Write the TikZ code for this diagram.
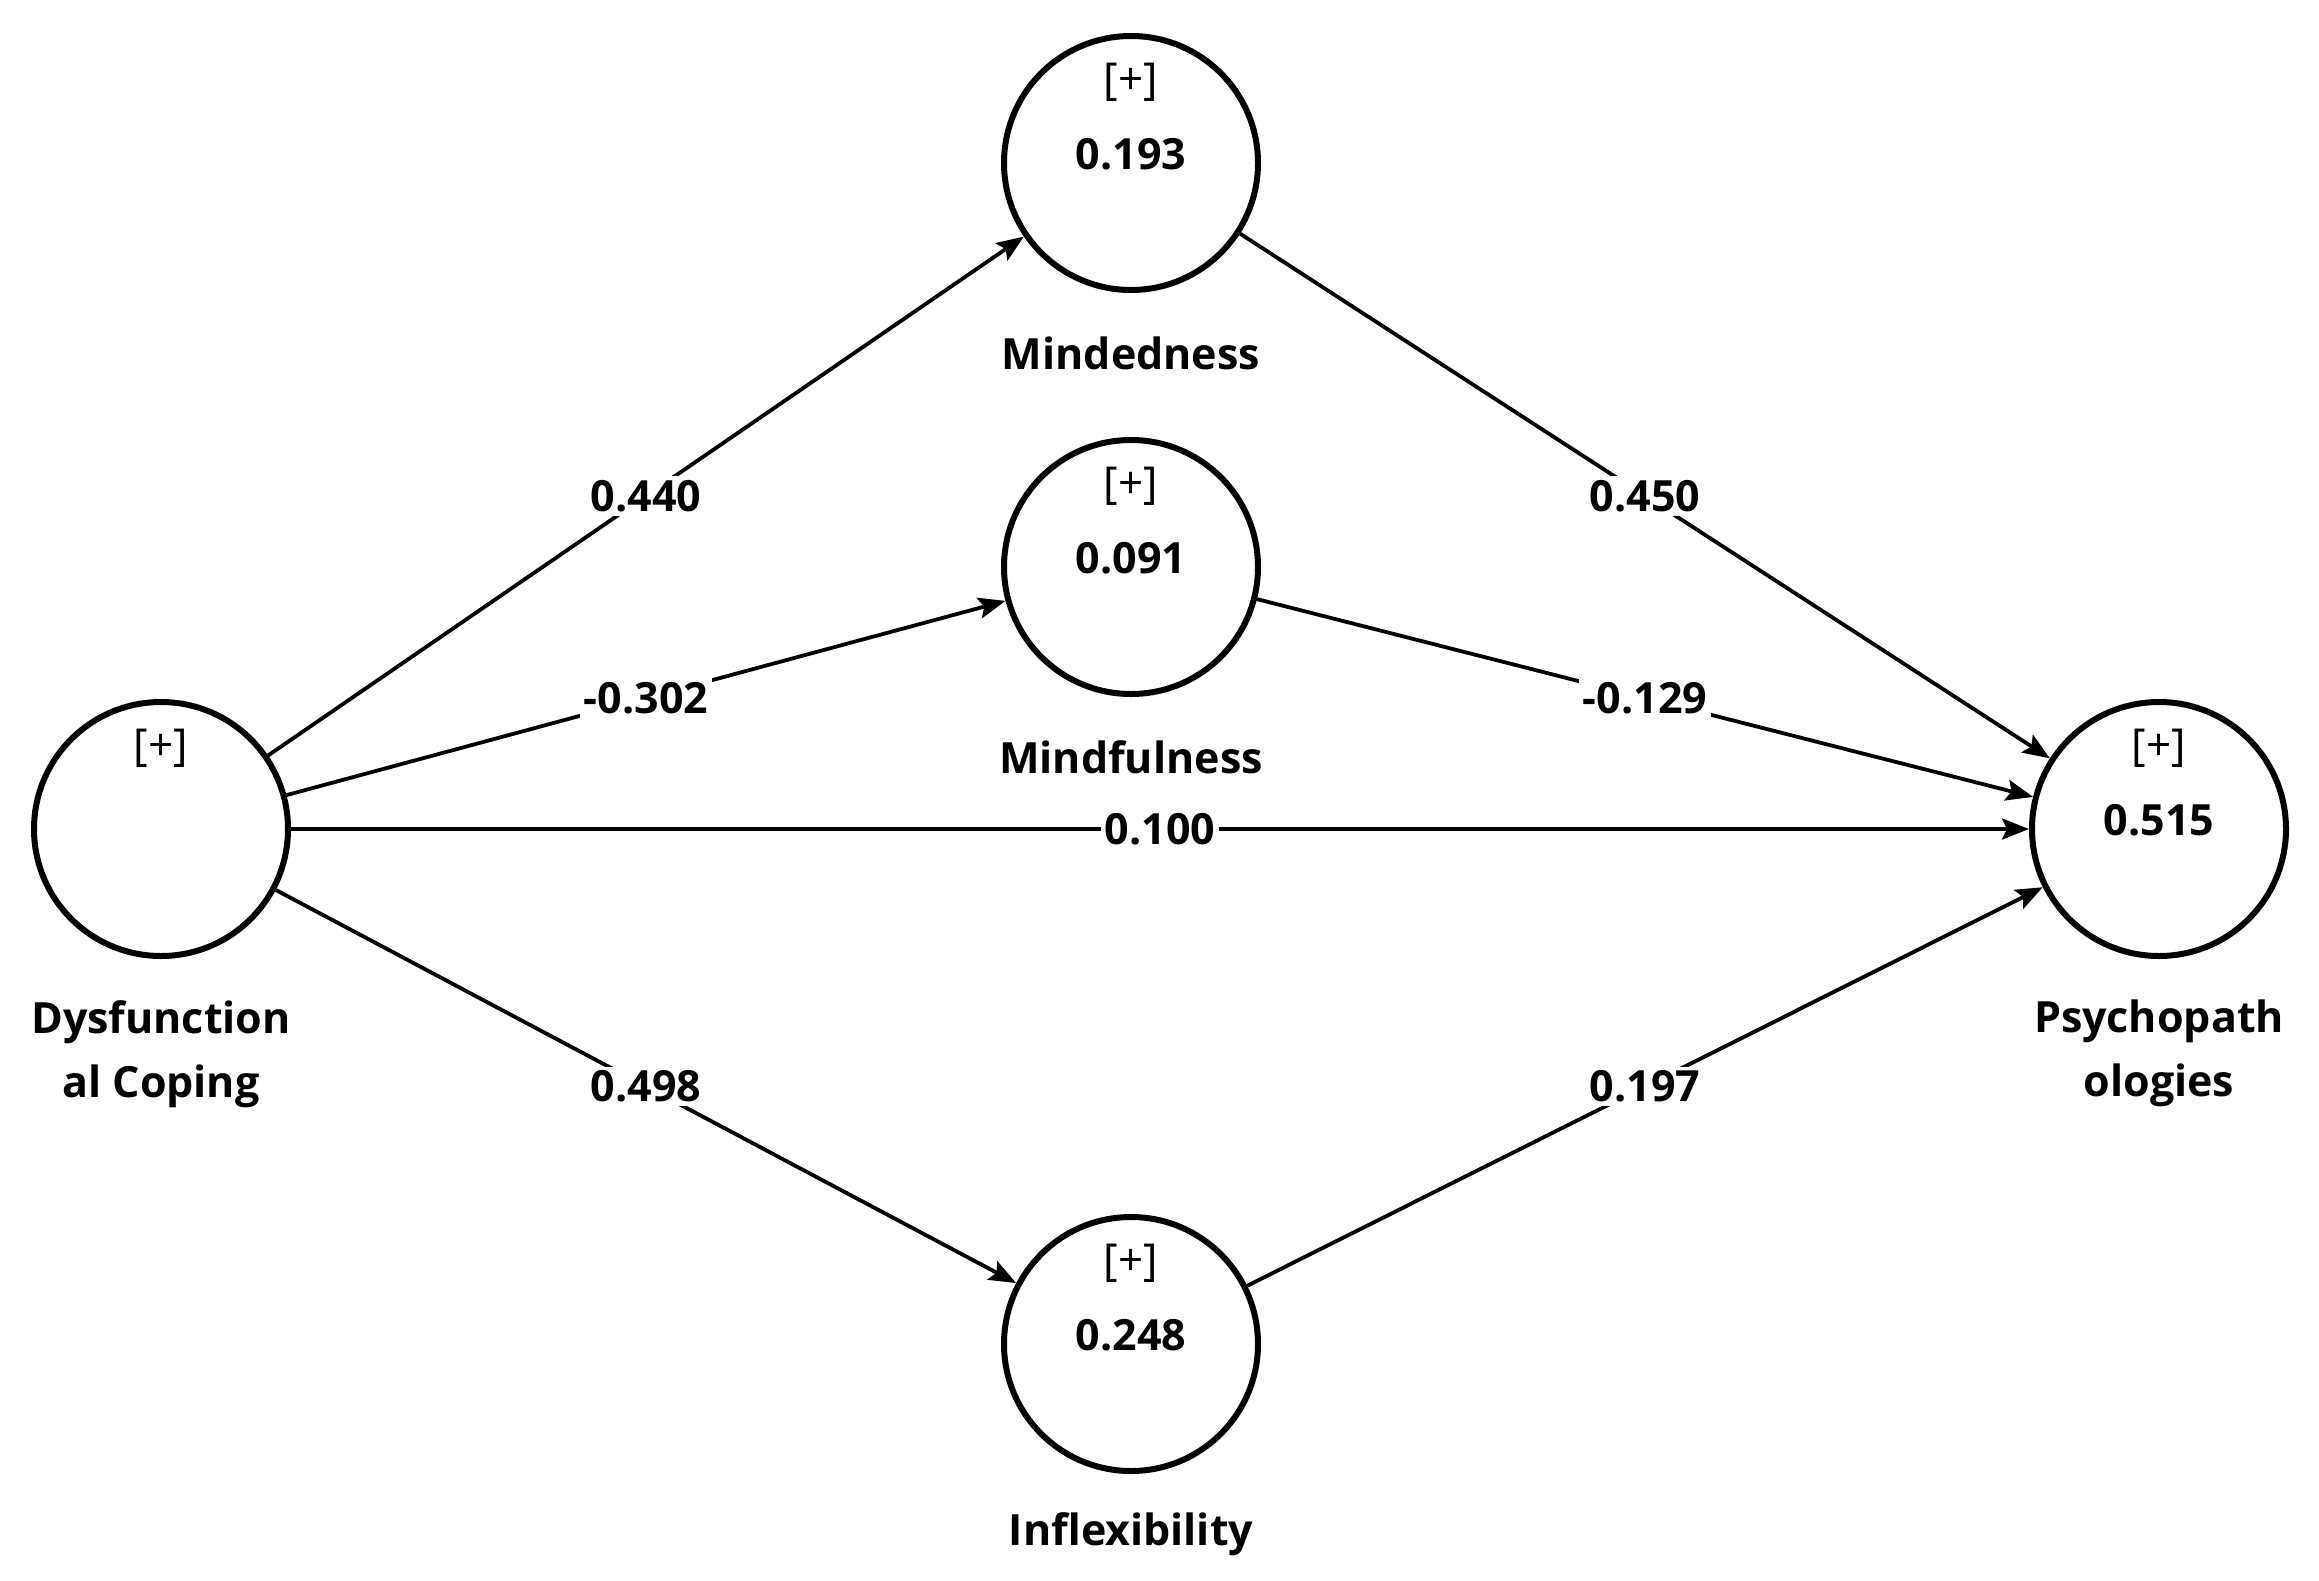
\documentclass[tikz,border=0pt]{standalone}
\usepackage{fontspec}
\setmainfont{Open Sans}
\usetikzlibrary{arrows.meta}
\tikzset{
  lv/.style={circle, draw, line width=6pt, minimum size=254pt, inner sep=0pt},
  plusmark/.style={font=\fontsize{44}{48}\selectfont, inner sep=0pt},
  rsq/.style={font=\bfseries\fontsize{43}{50}\selectfont, inner sep=0pt},
  lvname/.style={font=\bfseries\fontsize{43}{64}\selectfont, align=center, inner sep=0pt},
  pathedge/.style={line width=3.8pt, -{Stealth[length=27pt, width=21pt, inset=5pt]}},
  coef/.style={font=\bfseries\fontsize{43}{50}\selectfont, fill=white, inner sep=4pt, midway}
}
\begin{document}
\begin{tikzpicture}[x=1pt, y=-1pt]
\useasboundingbox (0,0) rectangle (2319,1580);
% latent variables
\node[lv] (dc) at (161,829) {};
\node[lv] (md) at (1131,163) {};
\node[lv] (mf) at (1131,567) {};
\node[lv] (in) at (1131,1344) {};
\node[lv] (ps) at (2159,829) {};
% [+] markers
\node[plusmark] (dcp) at (161,748) {[+]};
\node[plusmark] (mdp) at (1131,82) {[+]};
\node[plusmark] (mfp) at (1131,486) {[+]};
\node[plusmark] (inp) at (1131,1263) {[+]};
\node[plusmark] (psp) at (2159,748) {[+]};
% R2 values
\node[rsq] (mdv) at (1131,154) {0.193};
\node[rsq] (mfv) at (1131,558) {0.091};
\node[rsq] (inv) at (1131,1335) {0.248};
\node[rsq] (psv) at (2159,820) {0.515};
% names
\node[lvname, anchor=north] (dcn) at (161,1000) {Dysfunction\\al Coping};
\node[lvname] (mdn) at (1131,353) {Mindedness};
\node[lvname] (mfn) at (1131,757) {Mindfulness};
\node[lvname] (inn) at (1131,1534) {Inflexibility};
\node[lvname, anchor=north] (psn) at (2159,1000) {Psychopath\\ologies};
% paths
\draw[pathedge] (dc) -- (md) node[coef] (c1) {0.440};
\draw[pathedge] (dc) -- (mf) node[coef] (c2) {-0.302};
\draw[pathedge] (dc) -- (ps) node[coef] (c3) {0.100};
\draw[pathedge] (dc) -- (in) node[coef] (c4) {0.498};
\draw[pathedge] (md) -- (ps) node[coef] (c5) {0.450};
\draw[pathedge] (mf) -- (ps) node[coef] (c6) {-0.129};
\draw[pathedge] (in) -- (ps) node[coef] (c7) {0.197};
\end{tikzpicture}
\end{document}
